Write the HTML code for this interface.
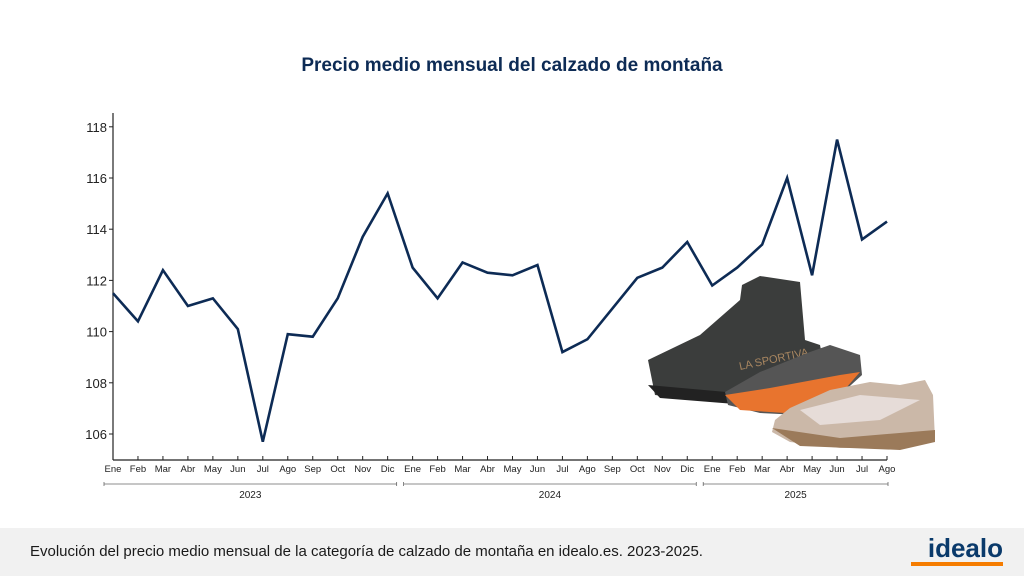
<!DOCTYPE html>
<html><head><meta charset="utf-8"><style>
body{margin:0;width:1024px;height:576px;background:#fff;font-family:"Liberation Sans",sans-serif;overflow:hidden;position:relative}
#footer{position:absolute;left:0;top:528px;width:1024px;height:48px;background:#f1f1f1}
#caption{position:absolute;left:30px;top:15px;font-size:15px;color:#1a1a1a}
#logo{position:absolute;right:21px;top:5px;font-size:26px;font-weight:bold;color:#0a3a6b;letter-spacing:0}
#logo-bar{position:absolute;right:21px;top:34px;width:92px;height:4px;background:#f57c00}
</style></head><body>
<svg width="1024" height="528" style="position:absolute;left:0;top:0">
<text x="512" y="71" text-anchor="middle" font-size="19" font-weight="bold" fill="#0d2b55">Precio medio mensual del calzado de montaña</text>
<g id="axes"></g>
<g id="shoes">
 <path d="M648 360 L700 335 L740 300 L742 285 L760 276 L800 282 L805 340 L820 345 L830 395 L760 405 L700 400 L655 395 Z" fill="#3b3d3c"/>
 <path d="M648 385 L760 395 L800 400 L760 406 L660 398 Z" fill="#222"/>
 <text x="740" y="370" font-size="11" fill="#a88660" transform="rotate(-12 740 370)">LA SPORTIVA</text>
 <path d="M725 392 L760 372 L810 352 L830 345 L860 355 L862 375 L840 395 L800 415 L760 413 L728 405 Z" fill="#555"/>
 <path d="M725 395 L770 388 L840 375 L860 372 L840 395 L800 414 L740 410 Z" fill="#e8742e"/>
 <path d="M775 420 L790 408 L830 390 L870 382 L900 385 L925 380 L933 395 L935 440 L900 448 L840 448 L790 442 L772 432 Z" fill="#cbb8a8"/>
 <path d="M772 428 L840 438 L935 430 L935 442 L900 450 L800 446 Z" fill="#9b7a5a"/>
 <path d="M800 410 L860 395 L920 400 L880 420 L820 425 Z" fill="#e6dcd8"/>
</g>
<path id="line" fill="none" stroke="#0d2b55" stroke-width="2.6" stroke-linejoin="miter"/>
</svg>
<div id="footer">
<div id="caption">Evolución del precio medio mensual de la categoría de calzado de montaña en idealo.es. 2023-2025.</div>
<div id="logo">idealo</div>
<div id="logo-bar"></div>
</div>
<script>
const months=["Ene","Feb","Mar","Abr","May","Jun","Jul","Ago","Sep","Oct","Nov","Dic"];
const categories=[...months,...months,...months.slice(0,8)];
const prices=[111.5,110.4,112.4,111.0,111.3,110.1,105.7,109.9,109.8,111.3,113.7,115.4,
112.5,111.3,112.7,112.3,112.2,112.6,109.2,109.7,110.9,112.1,112.5,113.5,
111.8,112.5,113.4,116.0,112.2,117.5,113.6,114.3];
const yTicks=[106,108,110,112,114,116,118];
const years=["2023","2024","2025"];
const NS="http://www.w3.org/2000/svg";
const x0=113,x1=887,yb=460;
const xs=i=>x0+i*(x1-x0)/(categories.length-1);
const ys=v=>434-(v-106)*25.6;
const ax=document.getElementById('axes');
function mk(t,a,p){const e=document.createElementNS(NS,t);for(const k in a)e.setAttribute(k,a[k]);(p||ax).appendChild(e);return e;}
const ya=mk('line',{x1:x0,y1:113,x2:x0,y2:yb,stroke:'#222','stroke-width':1.2});


const xa=mk('line',{x1:x0,y1:yb,x2:x1,y2:yb,stroke:'#222','stroke-width':1.2});


yTicks.forEach(v=>{const y=ys(v);
mk('line',{x1:x0-4,y1:y,x2:x0,y2:y,stroke:'#222'});
const t=mk('text',{x:x0-6,y:y+5,'text-anchor':'end','font-size':13,fill:'#222'});t.textContent=v;

});
categories.forEach((c,i)=>{const x=xs(i);
mk('line',{x1:x,y1:yb,x2:x,y2:yb-4,stroke:'#222'});
const t=mk('text',{x:x,y:yb+12,'text-anchor':'middle','font-size':9.5,fill:'#222'});t.textContent=c;

});
years.forEach((yr,k)=>{const a=xs(k*12)-9,b=Math.min(xs(k*12+11)+9,x1+1);
mk('line',{x1:a,y1:484,x2:b,y2:484,stroke:'#666','stroke-width':0.8});
mk('line',{x1:a,y1:482,x2:a,y2:486,stroke:'#666','stroke-width':0.8});
mk('line',{x1:b,y1:482,x2:b,y2:486,stroke:'#666','stroke-width':0.8});
const t=mk('text',{x:(a+b)/2,y:498,'text-anchor':'middle','font-size':10,fill:'#222'});t.textContent=yr;

});
document.getElementById('line').setAttribute('d',prices.map((v,i)=>(i?'L':'M')+xs(i)+' '+ys(v)).join(' '));
</script>
</body></html>
